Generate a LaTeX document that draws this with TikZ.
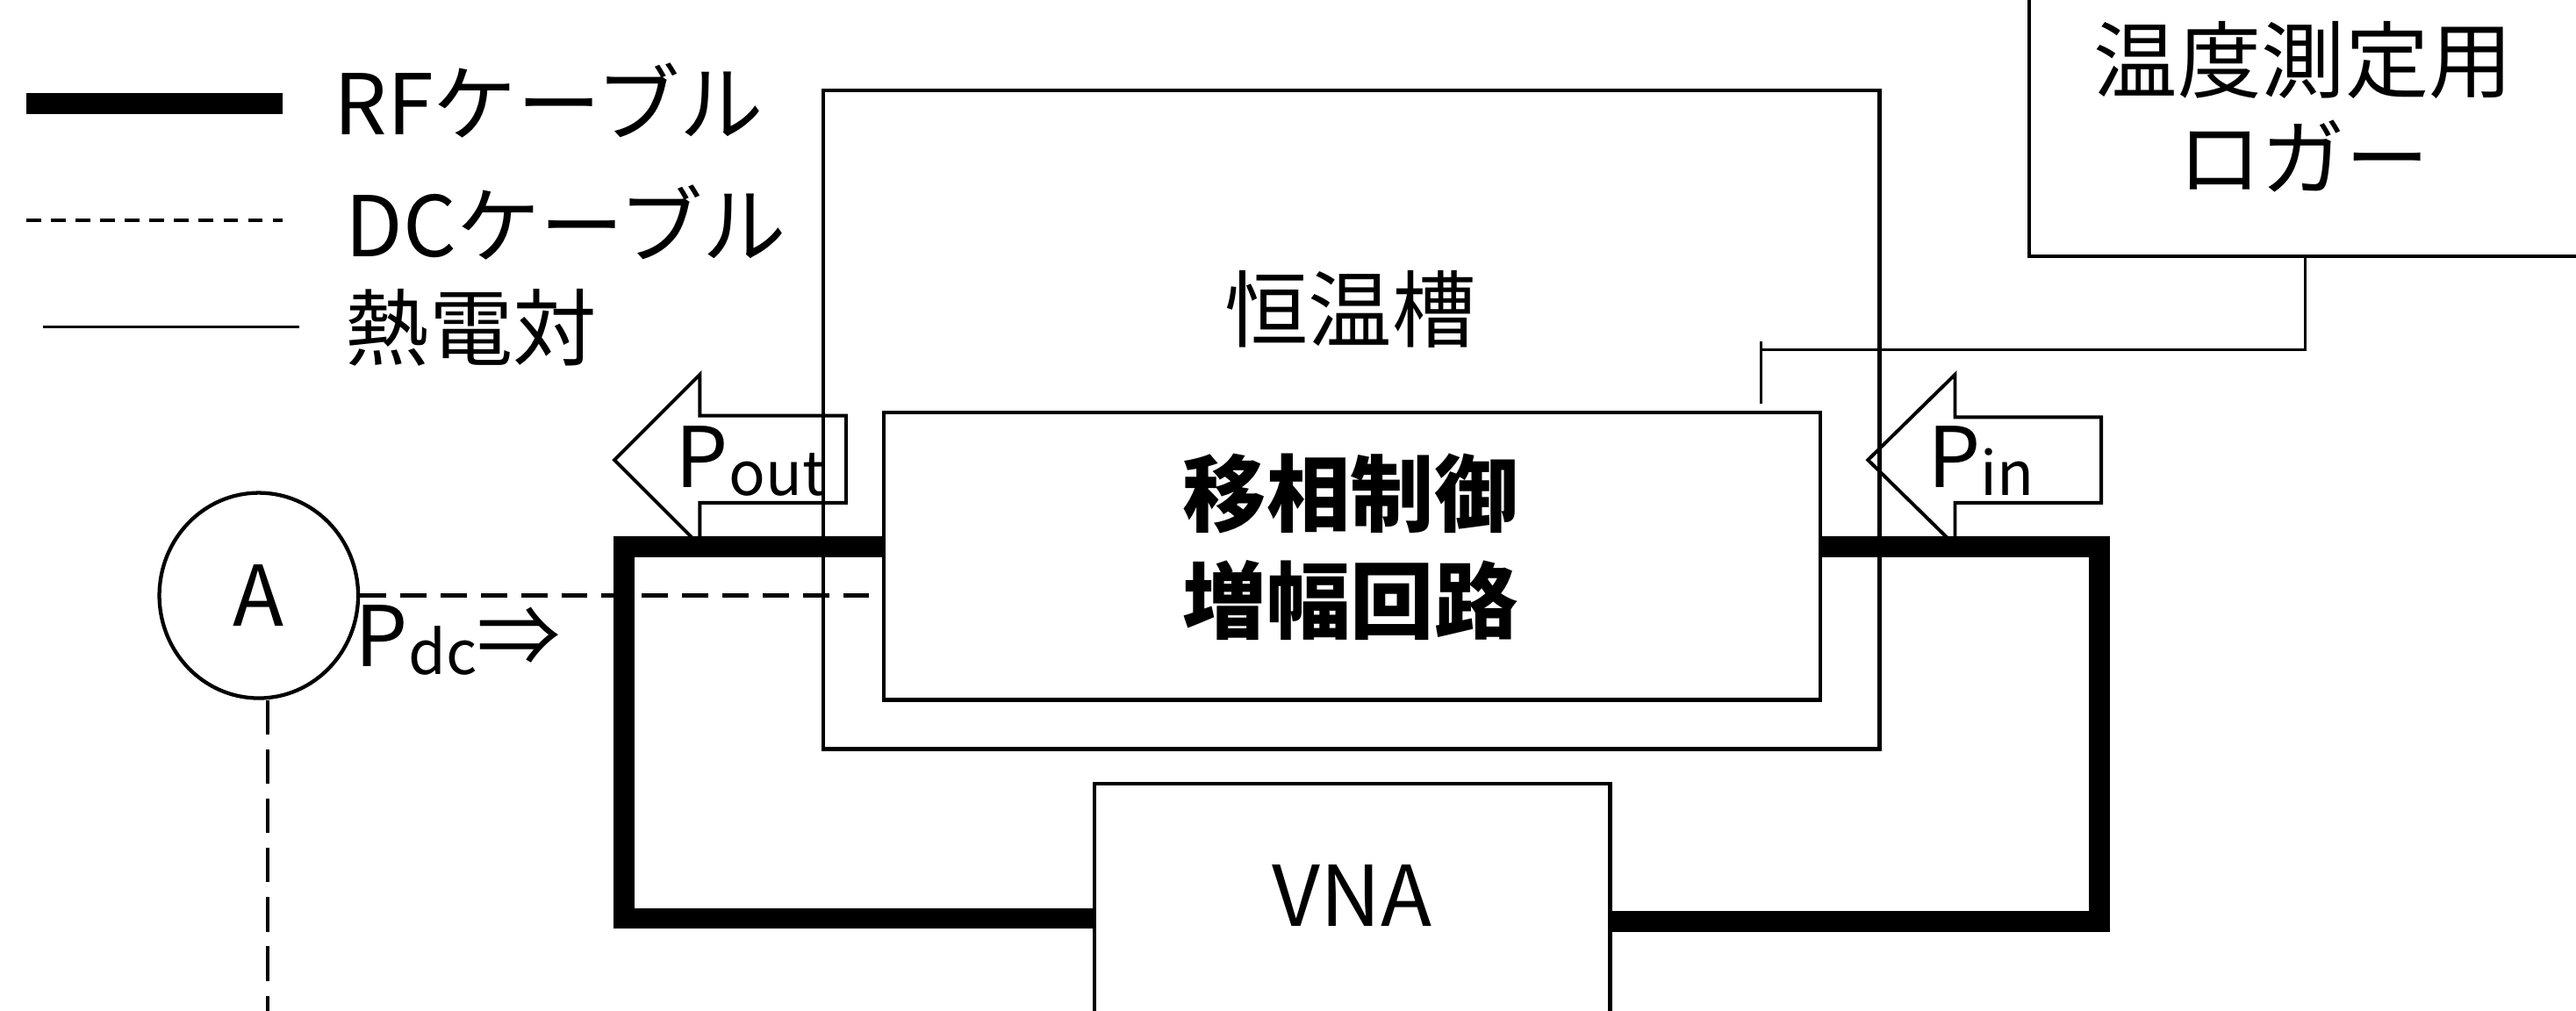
\documentclass[tikz,border=0pt]{standalone}
\usepackage{fontspec}
\setmainfont{Noto Sans CJK JP}
\usetikzlibrary{shapes.geometric}
\begin{document}
\begin{tikzpicture}[x=0.2mm,y=-0.2mm,
  thinbox/.style={draw, line width=1.3pt, inner sep=0},
  rf/.style={line width=7.2pt, line join=miter},
  dcline/.style={line width=1.4pt, dash pattern=on 3.2mm off 1.7mm},
  dcvert/.style={line width=1.4pt, dash pattern=on 4.2mm off 1.8mm},
  dclegend/.style={line width=1.4pt, dash pattern=on 1.8mm off 1.2mm},
  tc/.style={line width=1pt},
  pwr/.style={draw, line width=1.2pt, line join=miter},
  lbl/.style={inner sep=0, font=\fontsize{29pt}{36pt}\selectfont},
]
\clip (0,0) rectangle (1568,615);
\fill[white] (0,0) rectangle (1568,615);

% legend
\coordinate (rfA) at (16,63); \coordinate (rfB) at (172,63);
\draw[rf] (rfA) -- (rfB);
\node[lbl, anchor=base west] (rfT) at (203,82) {RFケーブル};
\coordinate (dcA) at (16,134); \coordinate (dcB) at (172,134);
\draw[dclegend] (dcA) -- (dcB);
\node[lbl, anchor=base west] (dcT) at (210,156) {DCケーブル};
\coordinate (tcA) at (26,199); \coordinate (tcB) at (182,199);
\draw[tc] (tcA) -- (tcB);
\node[lbl, anchor=base west] (tcT) at (210,219) {熱電対};

% boxes
\node[thinbox, minimum width=128.6mm, minimum height=80.2mm] (chamber) at (822.5,255.5) {};
\node[lbl] (chamberT) at (822,188) {恒温槽};
\node[thinbox, minimum width=114mm, minimum height=35mm] (amp) at (823,338.5) {};
\node[lbl, font=\fontsize{29pt}{37pt}\selectfont\bfseries, align=center] (ampT) at (822,333) {移相制御\\増幅回路};
\node[thinbox, minimum width=62.8mm, minimum height=50mm] (vna) at (823,602) {};
\node[lbl] (vnaT) at (823,545) {VNA};
\node[thinbox, minimum width=90mm, minimum height=50mm] (logger) at (1460,31) {};
\node[lbl, align=center, font=\fontsize{29pt}{34pt}\selectfont] (loggerT) at (1402,65) {温度測定用\\ロガー};

% ammeter
\node[draw, ellipse, line width=1.3pt, minimum width=24.2mm, minimum height=25mm, inner sep=0, font=\fontsize{29pt}{36pt}\selectfont] (amm) at (157.5,362.5) {A};

% RF cables
\coordinate (rfL1) at (380,333); \coordinate (rfL2) at (380,559);
\draw[rf] (amp.west |- rfL1) -- (rfL1) -- (rfL2) -- (vna.west |- rfL2);
\coordinate (rfR1) at (1278,333); \coordinate (rfR2) at (1278,561);
\draw[rf] (amp.east |- rfR1) -- (rfR1) -- (rfR2) -- (vna.east |- rfR2);

% DC cables
\draw[dcline] (amm.east) -- (amp.west |- amm.east);
\coordinate (dcEnd) at (163,630);
\draw[dcvert] (amm.south -| dcEnd) -- (dcEnd);

% thermocouple
\coordinate (tcJ) at (1403,213); \coordinate (tcEnd) at (1072,213);
\draw[tc] (logger.south -| tcJ) -- (tcJ) -- (tcEnd);
\coordinate (tcT1) at (1072,208); \coordinate (tcT2) at (1072,246);
\draw[tc] (tcT1) -- (tcT2);

% power arrows
\draw[pwr] (374,280) -- (426,228) -- (426,253) -- (515,253) -- (515,306) -- (426,306) -- (426,332) -- cycle;
\node[lbl, anchor=base west] (poutT) at (411,297) {P\raisebox{-0.9mm}{\fontsize{21pt}{24pt}\selectfont out}};
\draw[pwr] (1137,280) -- (1190,228) -- (1190,254) -- (1279,254) -- (1279,306) -- (1190,306) -- (1190,332) -- cycle;
\node[lbl, anchor=base west] (pinT) at (1173,297) {P\raisebox{-0.9mm}{\fontsize{21pt}{24pt}\selectfont in}};
\node[lbl, anchor=base west] (pdcT) at (216,406) {P\raisebox{-0.9mm}{\fontsize{21pt}{24pt}\selectfont dc}⇒};
\end{tikzpicture}
\end{document}
